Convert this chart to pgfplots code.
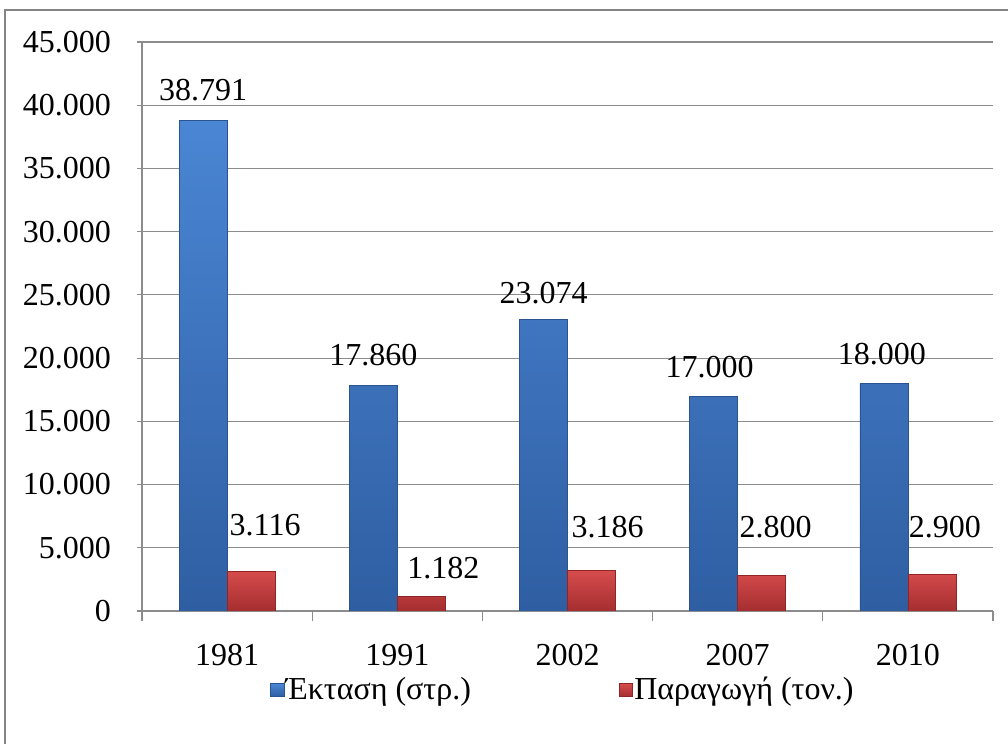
\documentclass[border=0pt]{standalone}
\usepackage{pgfplots}
\usepackage{pgfplotstable}
\pgfplotsset{compat=1.18}
\usepackage{fontspec}
\setmainfont{Liberation Serif}
\definecolor{bluetop}{HTML}{4A86D4}
\definecolor{bluebot}{HTML}{2F5EA2}
\definecolor{blueedge}{HTML}{2A5490}
\definecolor{redtop}{HTML}{D64C4C}
\definecolor{redbot}{HTML}{A52E30}
\definecolor{rededge}{HTML}{8E2628}
\definecolor{gridgray}{HTML}{8C8C8C}
\definecolor{framegray}{HTML}{858585}

\pgfplotstableread{
x y lab dy dx
0 38791 38.791 15.3 0
1 17860 17.860 15.0 0
2 23074 23.074 13.0 0
3 17000 17.000 14.5 -2
4 18000 18.000 14.5 -1
}\areatab
\pgfplotstableread{
x y lab dy dx
0 3116 3.116 23.3 7
1 1182 1.182 14.0 11
2 3186 3.186 21.9 8
3 2800 2.800 24.3 7
4 2900 2.900 23.6 6.5
}\prodtab

\pgfplotsset{
  labelled/.style={
    point meta=explicit symbolic,
    visualization depends on={\thisrow{dy} \as \dy},
    visualization depends on={\thisrow{dx} \as \dx},
    nodes near coords,
    nodes near coords style={font=\fontsize{16}{19}\selectfont, text=black, anchor=center, yshift=\dy pt, xshift=\dx pt},
  }
}

\begin{document}
\begin{tikzpicture}
\useasboundingbox (0,0) rectangle (504pt,372pt);
\draw[framegray, line width=1.3pt] (2.5pt,0) -- (2.5pt,367pt) -- (504pt,367pt);
\begin{axis}[
  at={(71pt,66.5pt)}, anchor=south west,
  scale only axis,
  width=425.5pt, height=284.5pt,
  xmin=-0.5, xmax=4.5,
  ymin=0, ymax=45000,
  ytick={0,5000,...,45000},
  xtick={0,1,2,3,4},
  xticklabels={1981,1991,2002,2007,2010},
  minor xtick={-0.5,0.5,1.5,2.5,3.5,4.5},
  major x tick style={draw=none},
  tick align=outside,
  major tick length=5pt,
  minor tick length=5pt,
  axis x line=bottom, axis y line=left,
  axis line style={-, draw=gridgray, line width=0.6pt},
  tick style={draw=gridgray, line width=0.6pt},
  ymajorgrids,
  grid style={draw=gridgray, line width=0.6pt},
  scaled y ticks=false,
  /pgf/number format/.cd, 1000 sep={.}, assume math mode=true,
  /pgfplots/.cd,
  tick label style={font=\fontsize{16}{19}\selectfont, text=black},
  yticklabel style={xshift=-9.5pt},
  xticklabel style={yshift=-8pt},
  ybar=0pt, bar width=24pt,
  legend columns=2,
  legend style={at={(rel axis cs:0.1504,-0.1388)}, anchor=west, draw=none, fill=none,
    font=\fontsize{16}{19}\selectfont, inner sep=0pt,
    nodes={inner sep=0.6pt},
    /tikz/column 2/.style={column sep=73.5pt}},
  legend image code/.code={\path[#1] (0pt,-3.3pt) rectangle (6.6pt,3.3pt);},
]
\addplot[top color=bluetop, bottom color=bluebot, draw=blueedge, line width=0.4pt, labelled]
  table[x=x, y=y, meta=lab] {\areatab};
\addplot[top color=redtop, bottom color=redbot, draw=rededge, line width=0.4pt, labelled]
  table[x=x, y=y, meta=lab] {\prodtab};
\legend{Έκταση (στρ.), Παραγωγή (τον.)}
\end{axis}
\end{tikzpicture}
\end{document}
